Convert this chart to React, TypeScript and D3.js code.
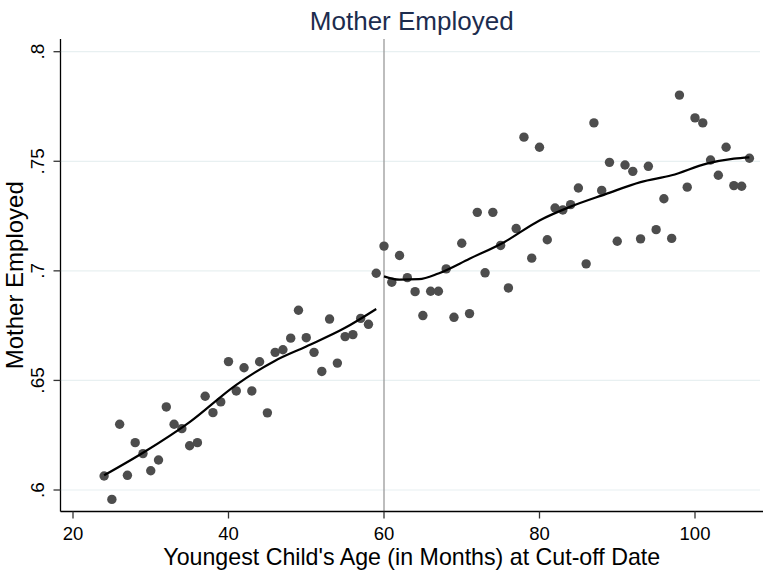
import { useEffect, useRef } from 'react'
import * as d3 from 'd3'

// binned scatter: youngest child's age in months
const leftAges = d3.range(24, 60)
const leftShares = [
  0.6064, 0.5957, 0.630, 0.6067, 0.6216, 0.6166, 0.6088, 0.6137, 0.6379, 0.630,
  0.628, 0.6202, 0.6216, 0.6428, 0.6353, 0.6402, 0.6586, 0.6452, 0.6558, 0.6452,
  0.6585, 0.6352, 0.6628, 0.664, 0.6693, 0.682, 0.6695, 0.6628, 0.6541, 0.678,
  0.6579, 0.670, 0.6709, 0.6783, 0.6756, 0.6989,
]
const rightAges = d3.range(60, 108)
const rightShares = [
  0.7113, 0.6948, 0.707, 0.6969, 0.6905, 0.6796, 0.6907, 0.6907, 0.7009, 0.6788,
  0.7126, 0.6805, 0.7267, 0.6991, 0.7267, 0.7116, 0.6922, 0.7193, 0.761, 0.7058,
  0.7564, 0.7142, 0.7287, 0.7278, 0.7302, 0.7378, 0.7032, 0.7675, 0.7367, 0.7495,
  0.7135, 0.7483, 0.7454, 0.7146, 0.7477, 0.7188, 0.7329, 0.7148, 0.7802, 0.7382,
  0.7698, 0.7675, 0.7506, 0.7436, 0.7564, 0.7389, 0.7386, 0.7514,
]

// smoothed fit on each side of the cut-off
const leftFitAges = [24, 29, 35, 41, 46, 50, 55, 59]
const leftFitShares = [0.6067, 0.617, 0.631, 0.648, 0.659, 0.6655, 0.674, 0.6826]
const rightFitAges = [60, 62, 64.5, 67, 71, 75.5, 80, 84, 88.5, 93, 97, 101.5, 105, 107]
const rightFitShares = [
  0.6975, 0.696, 0.6962, 0.6988, 0.7055, 0.7132, 0.723, 0.7293, 0.735, 0.7405,
  0.7436, 0.7489, 0.7512, 0.7518,
]

const xTicks = [20, 40, 60, 80, 100]
const yTicks = [0.6, 0.65, 0.7, 0.75, 0.8]
const yTickLabels = ['.6', '.65', '.7', '.75', '.8']
const cutoff = 60

export default function App() {
  const svgRef = useRef<SVGSVGElement>(null)

  useEffect(() => {
    if (!svgRef.current) return
    const svg = d3.select(svgRef.current)
    svg.selectAll('*').remove()

    const width = 765
    const height = 571
    const left = 60.5
    const right = 763
    const top = 39
    const bottom = 511.5
    const font = 'Arial, "Liberation Sans", sans-serif'

    svg.attr('width', width).attr('height', height)

    const x = d3.scaleLinear().domain([20, 100]).range([73, 695])
    const y = d3.scaleLinear().domain([0.6, 0.8]).range([490, 51.7])

    // gridlines
    svg.append('g')
      .selectAll('line')
      .data(yTicks)
      .enter()
      .append('line')
      .attr('x1', left)
      .attr('x2', right - 3)
      .attr('y1', d => y(d))
      .attr('y2', d => y(d))
      .attr('stroke', '#e8f0f1')
      .attr('stroke-width', 1.2)

    // cut-off line
    svg.append('line')
      .attr('x1', x(cutoff))
      .attr('x2', x(cutoff))
      .attr('y1', top)
      .attr('y2', bottom)
      .attr('stroke', '#9a9a9a')
      .attr('stroke-width', 1.3)

    // axes
    const yAxis = svg.append('g').attr('transform', `translate(${left},0)`)
    yAxis.append('line').attr('y1', top).attr('y2', bottom).attr('stroke', '#000').attr('stroke-width', 1.3)
    yAxis.selectAll('.tick')
      .data(yTicks)
      .enter()
      .append('line')
      .attr('x1', -7)
      .attr('x2', 0)
      .attr('y1', d => y(d))
      .attr('y2', d => y(d))
      .attr('stroke', '#333')
      .attr('stroke-width', 1.3)
    yAxis.selectAll('.lbl')
      .data(yTicks)
      .enter()
      .append('text')
      .attr('transform', d => `translate(-16.5,${y(d)}) rotate(-90)`)
      .attr('text-anchor', 'middle')
      .style('font-family', font)
      .style('font-size', '19px')
      .style('fill', '#000')
      .text((_, i) => yTickLabels[i])

    const xAxis = svg.append('g').attr('transform', `translate(0,${bottom})`)
    xAxis.append('line').attr('x1', left).attr('x2', right).attr('stroke', '#000').attr('stroke-width', 1.3)
    xAxis.selectAll('.tick')
      .data(xTicks)
      .enter()
      .append('line')
      .attr('x1', d => x(d))
      .attr('x2', d => x(d))
      .attr('y1', 0)
      .attr('y2', 7)
      .attr('stroke', '#333')
      .attr('stroke-width', 1.3)
    xAxis.selectAll('.lbl')
      .data(xTicks)
      .enter()
      .append('text')
      .attr('x', d => x(d))
      .attr('y', 28.5)
      .attr('text-anchor', 'middle')
      .style('font-family', font)
      .style('font-size', '18.5px')
      .style('fill', '#000')
      .text(d => d)

    // points
    const points = [
      ...leftAges.map((a, i) => ({ a, v: leftShares[i] })),
      ...rightAges.map((a, i) => ({ a, v: rightShares[i] })),
    ]
    svg.append('g')
      .selectAll('circle')
      .data(points)
      .enter()
      .append('circle')
      .attr('cx', d => x(d.a))
      .attr('cy', d => y(d.v))
      .attr('r', 4.7)
      .attr('fill', '#4d4d4d')

    // fitted lines
    const line = d3.line<[number, number]>()
      .x(d => x(d[0]))
      .y(d => y(d[1]))
      .curve(d3.curveMonotoneX)
    const fits: [number, number][][] = [
      leftFitAges.map((a, i) => [a, leftFitShares[i]]),
      rightFitAges.map((a, i) => [a, rightFitShares[i]]),
    ]
    svg.append('g')
      .selectAll('path')
      .data(fits)
      .enter()
      .append('path')
      .attr('d', d => line(d))
      .attr('fill', 'none')
      .attr('stroke', '#000')
      .attr('stroke-width', 2.2)

    // titles
    const cx = (left + right) / 2
    svg.append('text')
      .attr('x', cx)
      .attr('y', 30)
      .attr('text-anchor', 'middle')
      .style('font-family', font)
      .style('font-size', '26px')
      .style('fill', '#1c2c4e')
      .text('Mother Employed')

    svg.append('text')
      .attr('x', cx)
      .attr('y', 565)
      .attr('text-anchor', 'middle')
      .style('font-family', font)
      .style('font-size', '23.2px')
      .style('fill', '#000')
      .text("Youngest Child's Age (in Months) at Cut-off Date")

    svg.append('text')
      .attr('transform', `translate(23,${(top + bottom) / 2}) rotate(-90)`)
      .attr('text-anchor', 'middle')
      .style('font-family', font)
      .style('font-size', '24px')
      .style('fill', '#000')
      .text('Mother Employed')
  }, [])

  return (
    <div style={{ position: 'absolute', left: 0, top: 0, background: '#fff' }}>
      <svg ref={svgRef}></svg>
    </div>
  )
}
